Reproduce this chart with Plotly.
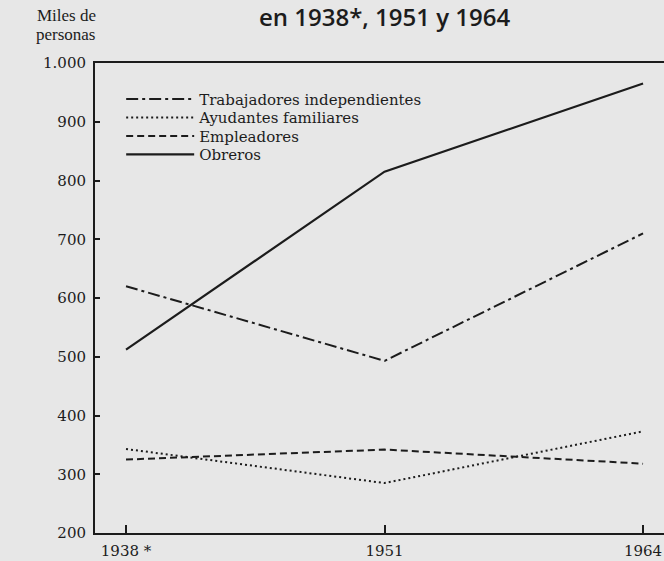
import plotly.graph_objects as go

years = ["1938 *", "1951", "1964"]
trabajadores = [620, 493, 710]
ayudantes = [343, 285, 373]
empleadores = [325, 342, 318]
obreros = [512, 815, 965]
y_ticks = [200, 300, 400, 500, 600, 700, 800, 900, 1000]
y_tick_text = ["200", "300", "400", "500", "600", "700", "800", "900", "1.000"]

xpos = list(range(len(years)))
ink = "#1c1c1c"
bg = "#e7e7e7"

fig = go.Figure()
series = [
    ("Trabajadores independientes", trabajadores, "12px,4px,3px,4px", 2, "legend", 0.923),
    ("Ayudantes familiares", ayudantes, "2px,3px", 2, "legend2", 0.8835),
    ("Empleadores", empleadores, "7px,4px", 2, "legend3", 0.844),
    ("Obreros", obreros, "solid", 2.2, "legend4", 0.805),
]
legend_font = dict(family="DejaVu Serif", size=15, color=ink)
legends = {}
for name, vals, dash, w, leg, ly in series:
    fig.add_trace(go.Scatter(x=xpos, y=vals, mode="lines", name=name,
                             legend=leg,
                             line=dict(color=ink, width=w, dash=dash)))
    legends[leg] = dict(x=0.046, y=ly, xanchor="left", yanchor="middle",
                        bgcolor="rgba(0,0,0,0)", itemwidth=68,
                        font=legend_font, borderwidth=0)

fig.update_layout(
    width=664, height=561,
    margin=dict(l=95, r=0, t=63, b=28),
    paper_bgcolor=bg, plot_bgcolor=bg,
    showlegend=True,
    annotations=[
        dict(text="en 1938*, 1951 y 1964", xref="paper", yref="paper",
             x=0.509, y=1.0, yshift=47, xanchor="center", yanchor="middle",
             showarrow=False,
             font=dict(family="Open Sans", size=24, color=ink, weight=600)),
        dict(text="Miles de", xref="paper", yref="paper",
             x=0, xshift=-29, y=1.0, yshift=48, xanchor="center", yanchor="middle",
             showarrow=False,
             font=dict(family="Liberation Serif", size=17, color=ink)),
        dict(text="personas", xref="paper", yref="paper",
             x=0, xshift=-30, y=1.0, yshift=29, xanchor="center", yanchor="middle",
             showarrow=False,
             font=dict(family="Liberation Serif", size=17, color=ink)),
    ],
    **legends,
)
fig.update_xaxes(range=[-0.12, 2.081], tickvals=xpos, ticktext=years,
                 showline=True, linecolor=ink, linewidth=2, mirror=True,
                 ticks="inside", ticklen=8, tickwidth=1.5, tickcolor=ink,
                 ticklabelstandoff=3,
                 showgrid=False, zeroline=False,
                 tickfont=dict(family="DejaVu Serif", size=15, color=ink))
fig.update_yaxes(range=[200, 1000], tickvals=y_ticks, ticktext=y_tick_text,
                 showline=True, linecolor=ink, linewidth=2,
                 ticks="inside", ticklen=5, tickwidth=1.5, tickcolor=ink,
                 ticklabelstandoff=4,
                 showgrid=False, zeroline=False,
                 tickfont=dict(family="DejaVu Serif", size=15, color=ink))

fig.write_html(
    "out.html",
    config={"displayModeBar": False},
    post_script="document.body.style.margin='0';document.body.style.background='%s';" % bg,
)
